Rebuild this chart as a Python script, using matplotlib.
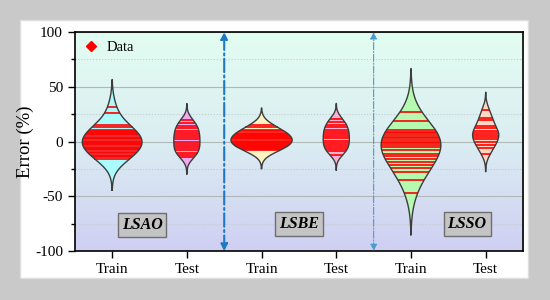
import numpy as np
import matplotlib
matplotlib.use('Agg')
import matplotlib.pyplot as plt
from matplotlib.colors import LinearSegmentedColormap
from matplotlib.patches import Rectangle
from matplotlib.ticker import MultipleLocator

plt.rcParams['font.family'] = ['Liberation Serif', 'DejaVu Serif']
plt.rcParams['axes.unicode_minus'] = False

# Data lines (error %)
lsao_train = [32, 26, 15, 13, 11, 10, 9, 8, 7, 6, 4.5, 3.5, 2.5, 1, 0, -1, -2.5,
              -3.5, -5, -6, -7, -8, -9.5, -10.5, -12, -13, -14.5, -15.5]
lsao_test = [19.5, 17, 14.5, 12, 10, 8, 6, 4, 2, 0, -2, -4, -6, -8, -10, -12, -14]
lsbe_train = [15, 13, 11, 9.5, 8, 7, 6, 5, 4, 3, 2, 1, 0, -1, -2, -3, -4, -5,
              -6, -7, -8]
lsbe_test = [21, 18, 15.5, 13, 11, 9, 7, 5, 3, 1, -1, -3, -5, -7, -9, -12]
lsso_train = [27, 18.5, 10.5, 9, 7.5, 6, 4.5, 3, 1.5, 0, -1.5, -3, -4.5, -8,
              -11, -13, -15.5, -18.5, -21.5, -24.5, -27.5, -35, -46.5]
lsso_test = [29, 22, 20, 14, 12, 10, 8, 6, 4, 2, 0, -3, -6, -11]

series = [lsao_train, lsao_test, lsbe_train, lsbe_test, lsso_train, lsso_test]
tick_labels = ['Train', 'Test', 'Train', 'Test', 'Train', 'Test']
fill_colors = ['#aafcfc', '#f2a8f0', '#fff3c2', '#ffb0d2', '#b6f9b0', '#ffd9c2']
bandwidths = [10.5, 5.5, 6, 5, 16, 6]
half_widths = [0.40, 0.175, 0.41, 0.175, 0.40, 0.175]

models = ['LSAO', 'LSBE', 'LSSO']
model_x = [1.4, 3.5, 5.75]
model_y = [-76, -75, -75]
divider_x = [2.5, 4.5]

fig = plt.figure(figsize=(5.5, 3), dpi=100, facecolor='#c9c9c9')
fig.patches.append(Rectangle((0.036, 0.073), 0.924, 0.86, transform=fig.transFigure,
                             facecolor='white', edgecolor='#dddddd', lw=1, zorder=-10))
ax = fig.add_axes([0.136, 0.163, 0.815, 0.730])

# gradient background
cmap = LinearSegmentedColormap.from_list('bg', ['#cfcff2', '#dbedf2', '#e2fdf1'])
ax.imshow(np.linspace(0, 1, 256).reshape(-1, 1), extent=[0.5, 6.5, -100, 100],
          aspect='auto', cmap=cmap, origin='lower', zorder=0)

positions = np.arange(1, len(series) + 1)
for pos, vals, col, bw, hw in zip(positions, series, fill_colors, bandwidths, half_widths):
    vals = np.asarray(vals, dtype=float)
    grid = np.linspace(vals.min() - 5 * bw, vals.max() + 5 * bw, 800)
    dens = np.exp(-0.5 * ((grid[None, :] - vals[:, None]) / bw) ** 2).sum(axis=0)
    keep = dens >= 0.004 * dens.max()
    ys = grid[keep]
    w = dens[keep] / dens.max() * hw
    ax.fill_betweenx(ys, pos - w, pos + w, facecolor=col, edgecolor='none', zorder=2)
    for v in vals:
        wv = np.interp(v, ys, w)
        ax.plot([pos - wv, pos + wv], [v, v], color='#ff0000', lw=1.2, zorder=3,
                solid_capstyle='butt')
    ax.plot(np.r_[pos - w, (pos + w)[::-1], pos - w[0]], np.r_[ys, ys[::-1], ys[0]],
            color='#3c3c3c', lw=1.0, zorder=4)

# dividers
for x, lw, c in zip(divider_x, [1.5, 0.8], ['#1f78c1', '#4a9ad0']):
    ax.annotate('', xy=(x, 100), xytext=(x, -100),
                arrowprops=dict(arrowstyle='<|-|>', color=c, lw=lw, ls='-.',
                                shrinkA=0, shrinkB=0, mutation_scale=10),
                annotation_clip=False, zorder=5)

for name, x, y in zip(models, model_x, model_y):
    ax.text(x, y, name, fontsize=11.5, fontweight='bold', style='italic',
            ha='center', va='center', zorder=6,
            bbox=dict(boxstyle='square,pad=0.25', facecolor='#c4c4c4',
                      edgecolor='#6e6e6e', lw=1))

ax.plot([], [], 'D', color='red', ms=5.5, label='Data')
ax.legend(loc='upper left', frameon=False, fontsize=10.5, handletextpad=0.6,
          borderaxespad=0.2, handlelength=1.0)

ax.set_xlim(0.5, 6.5)
ax.set_ylim(-100, 100)
ax.set_xticks(positions, tick_labels)
ax.yaxis.set_major_locator(MultipleLocator(50))
ax.yaxis.set_minor_locator(MultipleLocator(25))
ax.yaxis.grid(True, which='major', color='#b0b8b8', lw=0.8, zorder=1)
ax.yaxis.grid(True, which='minor', color='#c4cccc', lw=0.8, ls=':', zorder=1)
ax.set_axisbelow(True)
ax.tick_params(axis='both', which='major', direction='out', length=5, width=1,
               labelsize=11, colors='black')
ax.tick_params(axis='y', which='minor', direction='out', length=3, width=1)
ax.set_ylabel('Error (%)', fontsize=13.5, labelpad=1)
for s in ax.spines.values():
    s.set_linewidth(1.2)
    s.set_color('black')

fig.savefig('out.png', dpi=100, facecolor=fig.get_facecolor())
